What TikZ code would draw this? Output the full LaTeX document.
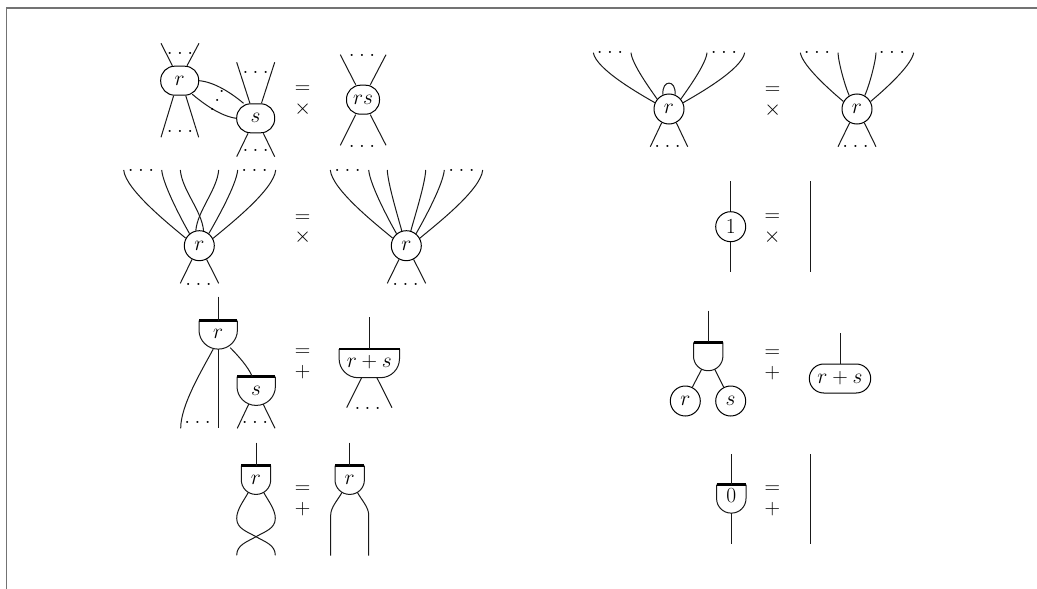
\documentclass[tikz,border=0pt]{standalone}
\usepackage{fix-cm}
\tikzset{
  every node/.style={font=\fontsize{21.5}{26}\selectfont},
  wire/.style={line width=1pt,black!90},
  fan/.style={looseness=0.55},
  frameline/.style={line width=1.3pt,black!55},
  bar/.style={line width=2.7pt,black},
  circ/.style={draw,circle,minimum size=30pt,inner sep=0pt,line width=1pt},
  rbox/.style={draw,rectangle,rounded corners=#1,inner sep=0pt,line width=1pt,minimum height=29pt},
  rbox/.default=14pt,
  gatebox/.style={rectangle,inner sep=0pt,anchor=north,text height=12pt,text depth=4pt},
  dotsbox/.style={inner sep=0pt,anchor=base},
  sym/.style={inner sep=0pt}
}
\newcommand\gate[7]{%
  \node[gatebox,minimum width=#4pt,minimum height=#5pt] (#1) at (#2,#3) {$#7$};
  \draw[wire,rounded corners=#6pt] (#1.north west) -- (#1.south west) -- (#1.south east) -- (#1.north east);
  \draw[bar] (#1.north west) -- (#1.north east);}
\newcommand\dts{}
\renewcommand\dts[3]{\node[dotsbox] (#1) at (#2,#3) {$.\kern4.4pt.\kern4.4pt.$};}
\begin{document}
\begin{tikzpicture}[x=1pt,y=-1pt]
\useasboundingbox (0,0) rectangle (1037,589);
% frame
\coordinate (fa) at (6.5,589); \coordinate (fb) at (6.5,8); \coordinate (fc) at (1037,8);
\draw[frameline] (fa) -- (fb) -- (fc);

% ---------- A
\node[rbox,minimum width=38pt] (ar) at (179.7,80.7) {$r$};
\node[rbox,minimum width=38pt] (as) at (255.7,118.3) {$s$};
\node[rbox=14pt,minimum width=33pt] (ars) at (363,99.7) {$rs$};
\coordinate (a1) at (161,43.3); \coordinate (a2) at (199,43.3);
\coordinate (a3) at (161,137.3); \coordinate (a4) at (198.7,137.3);
\coordinate (a5) at (236.7,62.3); \coordinate (a6) at (274.7,62.3);
\coordinate (a7) at (236.7,156.7); \coordinate (a8) at (274.7,156.7);
\coordinate (a9) at (340.3,54.7); \coordinate (a10) at (386,54.7);
\coordinate (a11) at (340.3,145.3); \coordinate (a12) at (386,145.3);
\draw[wire] (ar.116) -- (a1); \draw[wire] (ar.64) -- (a2);
\draw[wire] (ar.-112) -- (a3); \draw[wire] (ar.-68) -- (a4);
\draw[wire] (as.111) -- (a5); \draw[wire] (as.69) -- (a6);
\draw[wire] (as.-117) -- (a7); \draw[wire] (as.-63) -- (a8);
\draw[wire] (ars.116) -- (a9); \draw[wire] (ars.64) -- (a10);
\draw[wire] (ars.-116) -- (a11); \draw[wire] (ars.-64) -- (a12);
\draw[wire] (ar.east) to[out=-5,in=140,looseness=.8] (as.129);
\draw[wire] ([xshift=2pt,yshift=1.5pt]ar.-55) to[out=-40,in=172,looseness=.8] (as.west);
\dts{ad1}{180}{54} \dts{ad2}{180}{132.3} \dts{ad3}{255.7}{73} \dts{ad4}{255.7}{151.3}
\dts{ad5}{362}{56.6} \dts{ad6}{362}{147.6}
\node[dotsbox] (ad7) at (221.7,92) {$.$};
\node[dotsbox] (ad8) at (217.3,101) {$.$};
\node[dotsbox] (ad9) at (212.3,110) {$.$};
\node[sym] (ae) at (302.7,90) {$=$};
\node[sym] (at) at (302.7,109.3) {$\times$};

% ---------- B
\node[circ] (br) at (199.3,245.7) {$r$};
\node[circ] (bq) at (406.3,245.7) {$r$};
\coordinate (b1) at (123.7,170); \coordinate (b2) at (161.7,170); \coordinate (b3) at (180.3,170);
\coordinate (b4) at (218.7,170); \coordinate (b5) at (237.7,170); \coordinate (b6) at (275.7,170);
\coordinate (b7) at (180.3,283.3); \coordinate (b8) at (218.7,283.3);
\draw[wire] (b1) to[fan,out=-85,in=140] (br.151);
\draw[wire] (b2) to[fan,out=-85,in=120] (br.129);
\draw[wire] (b3) to[out=-85,in=95,looseness=.8] (br.74);
\draw[wire] (b4) to[out=-95,in=85,looseness=.8] (br.103);
\draw[wire] (b5) to[fan,out=-95,in=60] (br.52);
\draw[wire] (b6) to[fan,out=-95,in=40] (br.28);
\draw[wire] (br.242) -- (b7); \draw[wire] (br.298) -- (b8);
\coordinate (c1) at (330.3,170); \coordinate (c2) at (368.7,170); \coordinate (c3) at (387.3,170);
\coordinate (c4) at (425.7,170); \coordinate (c5) at (444.3,170); \coordinate (c6) at (482.7,170);
\coordinate (c7) at (387.3,283.3); \coordinate (c8) at (425.7,283.3);
\draw[wire] (c1) to[fan,out=-85,in=140] (bq.151);
\draw[wire] (c2) to[fan,out=-85,in=120] (bq.129);
\draw[wire] (c3) to[fan,out=-88,in=105] (bq.107);
\draw[wire] (c4) to[fan,out=-92,in=75] (bq.73);
\draw[wire] (c5) to[fan,out=-95,in=60] (bq.51);
\draw[wire] (c6) to[fan,out=-95,in=40] (bq.29);
\draw[wire] (bq.242) -- (c7); \draw[wire] (bq.298) -- (c8);
\dts{bd1}{141}{171} \dts{bd2}{254.5}{171} \dts{bd3}{198.5}{285.2}
\dts{bd4}{347.5}{171} \dts{bd5}{461.5}{171} \dts{bd6}{405.5}{285.2}
\node[sym] (be) at (302.7,218.3) {$=$};
\node[sym] (bt) at (302.7,237.3) {$\times$};

% ---------- C
\gate{g1}{218.2}{320.7}{38}{28}{19}{r}
\gate{g2}{256.2}{376.7}{38}{28.3}{19}{s}
\gate{g3}{369.3}{349}{60}{28.3}{19}{r+s}
\coordinate (g1t) at (218.2,296.7); \coordinate (g3t) at (369.3,317.3);
\coordinate (g1a) at (180.7,428.3); \coordinate (g1b) at (218.2,428.3);
\coordinate (g2a) at (237.3,428.3); \coordinate (g2b) at (275,428.3);
\coordinate (g3a) at (346.7,407.7); \coordinate (g3b) at (392,407.7);
\draw[wire] (g1t) -- (g1.north); \draw[wire] (g3t) -- (g3.north);
\draw[wire] ([xshift=-5pt]g1.south) to[out=-118,in=90,looseness=.7] (g1a);
\draw[wire] (g1.south) -- (g1b);
\draw[wire] ([xshift=12pt,yshift=1.4pt]g1.south) to[out=-45,in=110,looseness=.7] ([xshift=-4pt]g2.north);
\draw[wire] ([xshift=-7.5pt,yshift=1.2pt]g2.south) -- (g2a);
\draw[wire] ([xshift=7pt,yshift=1.2pt]g2.south) -- (g2b);
\draw[wire] ([xshift=-7.6pt]g3.south) -- (g3a);
\draw[wire] ([xshift=7.6pt]g3.south) -- (g3b);
\dts{gd1}{197.5}{423} \dts{gd2}{255}{423} \dts{gd3}{367.7}{409.6}
\node[sym] (ce) at (302.7,352.7) {$=$};
\node[sym] (cp) at (302.7,371.7) {$+$};

% ---------- D
\gate{d1}{256}{465.7}{29}{28.3}{14.5}{r}
\gate{d2}{349.7}{465.7}{29}{28.3}{14.5}{r}
\coordinate (d1t) at (256,442.7); \coordinate (d2t) at (349.7,442.7);
\coordinate (dl) at (236.7,518.3); \coordinate (dr) at (275.3,518.3); \coordinate (dx) at (256,536.7);
\coordinate (de1) at (275.3,555.3); \coordinate (de2) at (236.7,555.3);
\coordinate (dm1) at (330.7,515); \coordinate (dm2) at (368.7,515);
\coordinate (dn1) at (330.7,555.7); \coordinate (dn2) at (368.7,555.7);
\draw[wire] (d1t) -- (d1.north); \draw[wire] (d2t) -- (d2.north);
\draw[wire] ([xshift=-7.7pt,yshift=2pt]d1.south) to[out=-118,in=90,looseness=.8] (dl) to[out=-90,in=150] (dx) to[out=-30,in=90] (de1);
\draw[wire] ([xshift=7.7pt,yshift=2pt]d1.south) to[out=-62,in=90,looseness=.8] (dr) to[out=-90,in=30] (dx) to[out=-150,in=90] (de2);
\draw[wire] ([xshift=-7.7pt,yshift=2pt]d2.south) to[out=-118,in=90,looseness=.8] (dm1) -- (dn1);
\draw[wire] ([xshift=7.7pt,yshift=2pt]d2.south) to[out=-62,in=90,looseness=.8] (dm2) -- (dn2);
\node[sym] (de) at (302.7,489.3) {$=$};
\node[sym] (dp) at (302.7,509) {$+$};

% ---------- E
\node[circ] (er) at (669,109) {$r$};
\node[circ] (eq) at (857,109) {$r$};
\coordinate (e1) at (593.3,52.7); \coordinate (e2) at (631,52.7); \coordinate (e3) at (707,52.7); \coordinate (e4) at (744.7,52.7);
\coordinate (e5) at (650.3,146.7); \coordinate (e6) at (687.7,146.7);
\draw[wire] (e1) to[fan,out=-80,in=150] (er.156);
\draw[wire] (e2) to[fan,out=-85,in=125] (er.140);
\draw[wire] (e3) to[fan,out=-95,in=55] (er.40);
\draw[wire] (e4) to[fan,out=-100,in=30] (er.24);
\draw[wire] (er.113) to[out=95,in=85,looseness=3.3] (er.67);
\draw[wire] (er.242) -- (e5); \draw[wire] (er.298) -- (e6);
\coordinate (f1) at (800.3,52.7); \coordinate (f2) at (838,52.7); \coordinate (f3) at (876,52.7); \coordinate (f4) at (913.7,52.7);
\coordinate (f5) at (838,146.7); \coordinate (f6) at (876,146.7);
\draw[wire] (f1) to[fan,out=-80,in=140] (eq.151);
\draw[wire] (f2) to[fan,out=-88,in=115] (eq.120);
\draw[wire] (f3) to[fan,out=-92,in=65] (eq.60);
\draw[wire] (f4) to[fan,out=-100,in=40] (eq.29);
\draw[wire] (eq.242) -- (f5); \draw[wire] (eq.298) -- (f6);
\dts{ed1}{610}{53.9} \dts{ed2}{724}{53.9} \dts{ed3}{667.5}{147.9}
\dts{ed4}{817}{53.9} \dts{ed5}{892}{53.9} \dts{ed6}{855.5}{147.9}
\node[sym] (ee) at (772.7,90.7) {$=$};
\node[sym] (et) at (772.7,110) {$\times$};

% ---------- F
\node[circ] (f0) at (730.7,226.7) {$1$};
\coordinate (fu) at (730.7,181.3); \coordinate (fd) at (730.7,271.7);
\coordinate (fp) at (810,181.3); \coordinate (fq) at (810,271.7);
\draw[wire] (fu) -- (f0.north); \draw[wire] (f0.south) -- (fd);
\draw[wire] (fp) -- (fq);
\node[sym] (fe) at (772.3,217.7) {$=$};
\node[sym] (ft) at (772.3,236.7) {$\times$};

% ---------- G
\gate{h1}{708.2}{342.3}{29}{28}{14.5}{}
\node[circ] (hr) at (685.3,401) {$r$};
\node[circ] (hs) at (730.7,401) {$s$};
\node[rbox=14.5pt,minimum width=61.4pt] (hq) at (840,378.5) {$r+s$};
\coordinate (ht) at (708.2,310.7); \coordinate (hu) at (840,333.3);
\draw[wire] (ht) -- (h1.north); \draw[wire] (hu) -- (hq.north);
\draw[wire] ([xshift=-6.5pt,yshift=1.5pt]h1.south) -- (hr.63);
\draw[wire] ([xshift=6.5pt,yshift=1.5pt]h1.south) -- (hs.117);
\node[sym] (he) at (772.3,354) {$=$};
\node[sym] (hp) at (772.3,372.7) {$+$};

% ---------- H
\gate{k1}{731.3}{484.7}{29}{28}{14.5}{0}
\coordinate (kt) at (731.3,454); \coordinate (kb) at (731.3,544.3);
\coordinate (kp) at (810,454); \coordinate (kq) at (810,544.3);
\draw[wire] (kt) -- (k1.north); \draw[wire] (k1.south) -- (kb);
\draw[wire] (kp) -- (kq);
\node[sym] (ke) at (772.3,489.7) {$=$};
\node[sym] (kr) at (772.3,509) {$+$};
\end{tikzpicture}
\end{document}
